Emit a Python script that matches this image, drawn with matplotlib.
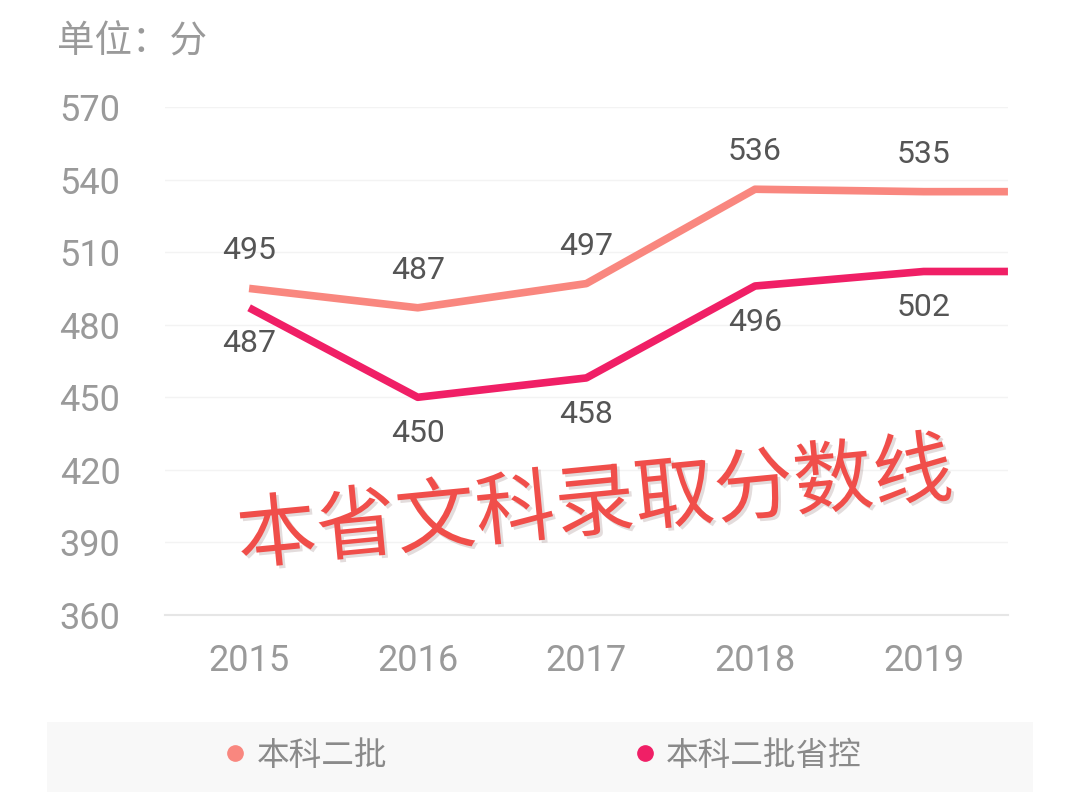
import matplotlib
matplotlib.use("Agg")
import matplotlib.pyplot as plt
import matplotlib.patheffects as pe
from matplotlib.lines import Line2D
from matplotlib.patches import Rectangle

plt.rcParams['font.family'] = ['Roboto', 'Noto Sans CJK SC', 'DejaVu Sans']

years = ["2015", "2016", "2017", "2018", "2019"]
erpi = [495, 487, 497, 536, 535]
erpi_shengkong = [487, 450, 458, 496, 502]
yticks = [360, 390, 420, 450, 480, 510, 540, 570]
series_names = ["本科二批", "本科二批省控"]
unit_text = "单位：分"
overlay_text = "本省文科录取分数线"

c_light = "#F9877F"
c_dark = "#F01F66"
gray = "#9A9A9A"

fig = plt.figure(figsize=(10.7, 7.92), dpi=100)
ax = fig.add_axes([0.154, 0.2235, 0.788, 0.6414])

x = list(range(len(years)))
xmax = len(years) - 0.5
ax.set_xlim(-0.5, xmax)
ax.set_ylim(360, 570)

# lines continue flat to the right edge of the plot
ax.plot(x + [xmax], erpi + [erpi[-1]], color=c_light, lw=5.5,
        solid_joinstyle='round', solid_capstyle='butt', clip_on=False, zorder=3)
ax.plot(x + [xmax], erpi_shengkong + [erpi_shengkong[-1]], color=c_dark, lw=5.5,
        solid_joinstyle='round', solid_capstyle='butt', clip_on=False, zorder=4)

for i, v in enumerate(erpi):
    ax.annotate(str(v), (i, v), xytext=(0, 27), textcoords='offset points',
                ha='center', va='center', fontsize=23, color="#555555")
for i, v in enumerate(erpi_shengkong):
    ax.annotate(str(v), (i, v), xytext=(0, -26), textcoords='offset points',
                ha='center', va='center', fontsize=23, color="#555555")

ax.set_yticks(yticks)
ax.set_xticks(x)
ax.set_xticklabels(years)
ax.tick_params(axis='y', length=0, labelsize=26, labelcolor=gray, pad=32)
ax.tick_params(axis='x', length=0, labelsize=26, labelcolor=gray, pad=20)
ax.grid(axis='y', color="#F3F3F3", lw=1)
ax.set_axisbelow(True)
for s in ['top', 'right', 'left']:
    ax.spines[s].set_visible(False)
ax.spines['bottom'].set_color("#E6E6E6")
ax.spines['bottom'].set_linewidth(1.5)

fig.text(0.053, 0.947, unit_text, fontsize=27, color=gray,
         family=['Noto Sans CJK SC'], ha='left', va='center')

fig.text(0.556, 0.362, overlay_text, fontsize=57.5, color="#F04E4A",
         family=['Noto Sans CJK SC'], ha='center', va='center', rotation=5.5,
         path_effects=[pe.SimplePatchShadow(offset=(2, -2), alpha=0.15), pe.Normal()])

# legend band
fig.patches.append(Rectangle((0.044, 0.0), 0.921, 0.088, transform=fig.transFigure,
                             facecolor="#F8F8F8", edgecolor='none', zorder=0))
handles = [Line2D([], [], ls='none', marker='o', ms=11, color=c_light),
           Line2D([], [], ls='none', marker='o', ms=11, color=c_dark)]
fig.legend(handles, series_names, loc='center', bbox_to_anchor=(0.505, 0.046),
           ncol=2, frameon=False, labelcolor="#8A8A8A",
           prop={'family': ['Noto Sans CJK SC'], 'size': 23.5},
           handletextpad=0.15, columnspacing=7.4, handlelength=1.0)

fig.savefig("out.png", dpi=100)
